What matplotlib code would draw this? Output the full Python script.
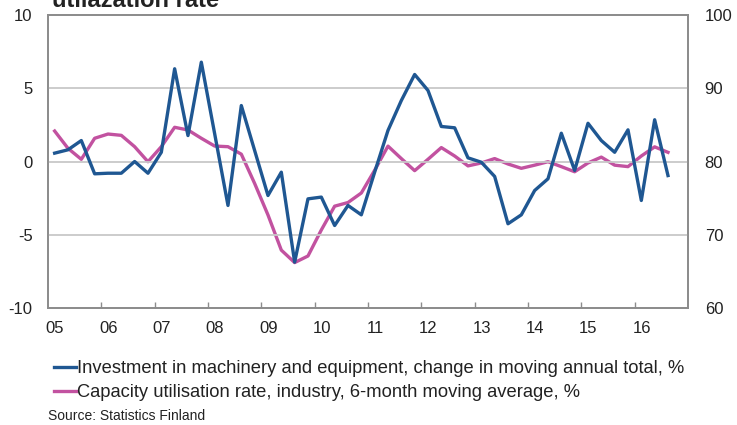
import numpy as np
import matplotlib.pyplot as plt

plt.rcParams["font.family"] = ["Liberation Sans", "DejaVu Sans"]
plt.rcParams["axes.unicode_minus"] = False

# quarterly observations 2005Q1 .. 2016Q3
start_year = 2005
investment = [0.57, 0.8, 1.43, -0.84, -0.8, -0.8, 0.0, -0.8,
              0.63, 6.33, 1.77, 6.78, 1.9, -3.0, 3.82, 0.75,
              -2.32, -0.73, -6.87, -2.55, -2.43, -4.37, -3.0, -3.64,
              -0.73, 2.12, 4.16, 5.94, 4.85, 2.39, 2.3, 0.25,
              -0.05, -1.02, -4.25, -3.64, -1.98, -1.18, 1.93, -0.61,
              2.61, 1.43, 0.63, 2.16, -2.66, 2.85, -0.96]
capacity = [84.16, 81.8, 80.3, 83.17, 83.75, 83.57, 82.02, 79.97,
            82.02, 84.67, 84.3, 83.17, 82.11, 82.02, 81.0, 77.0,
            72.7, 67.9, 66.2, 67.1, 70.65, 73.9, 74.4, 75.7,
            78.8, 82.1, 80.4, 78.75, 80.3, 81.9, 80.75, 79.4,
            79.8, 80.4, 79.66, 79.07, 79.5, 79.97, 79.3, 78.6,
            79.8, 80.6, 79.5, 79.3, 80.75, 82.0, 81.25]
year_labels = ["05", "06", "07", "08", "09", "10", "11", "12", "13", "14", "15", "16"]
label_inv = "Investment in machinery and equipment, change in moving annual total, %"
label_cap = "Capacity utilisation rate, industry, 6-month moving average, %"

BLUE = "#1f5792"
PINK = "#c252a0"
GRID = "#c8c8c8"
FRAME = "#8c8c8c"
TXT = "#222222"

t = start_year + np.arange(len(investment)) * 0.25 + 0.125

fig = plt.figure(figsize=(7.37, 4.25), dpi=100)
ax = fig.add_axes([0.0651, 0.2753, 0.8684, 0.6894])
ax2 = ax.twinx()

ax.set_xlim(2005, 2017)
ax.set_ylim(-10, 10)
ax2.set_ylim(60, 100)

for y in (-5, 0, 5):
    ax.axhline(y, color=GRID, lw=1.3, zorder=0)

ax.plot(t, investment, color=BLUE, lw=2.4, zorder=3)
ax2.plot(t, capacity, color=PINK, lw=2.4, zorder=2)
ax.set_zorder(ax2.get_zorder() + 1)
ax.patch.set_visible(False)

for a in (ax, ax2):
    for s in a.spines.values():
        s.set_color(FRAME)
        s.set_linewidth(1.3)

ax.set_yticks([-10, -5, 0, 5, 10])
ax2.set_yticks([60, 70, 80, 90, 100])
ax.tick_params(axis="y", length=0, pad=11, labelsize=12, labelcolor=TXT)
ax2.tick_params(axis="y", length=0, pad=12, labelsize=12, labelcolor=TXT)

years = np.arange(start_year, start_year + len(year_labels))
ax.set_xticks(years[1:])
ax.set_xticklabels([])
ax.tick_params(axis="x", which="major", direction="in", length=4, color=FRAME, width=1)
ax.set_xticks(years + 0.13, minor=True)
ax.set_xticklabels(year_labels, minor=True)
ax.tick_params(axis="x", which="minor", length=0, pad=9.5, labelsize=12, labelcolor=TXT)

fig.text(52 / 737, 1 - 7 / 425, "utilazation rate", fontsize=17, fontweight="bold",
         color=TXT, ha="left", va="baseline")

handles = [plt.Line2D([], [], color=BLUE, lw=2.4), plt.Line2D([], [], color=PINK, lw=2.4)]
fig.legend(handles, [label_inv, label_cap], loc="upper left",
           bbox_to_anchor=(54 / 737, 1 - 360 / 425), frameon=False, fontsize=13.2,
           handlelength=1.2, handletextpad=0.05, labelspacing=0.4, borderpad=0,
           borderaxespad=0, labelcolor=TXT)

fig.text(48 / 737, 1 - 416 / 425, "Source: Statistics Finland", fontsize=10,
         color=TXT, ha="left", va="center")

fig.savefig("out.png", dpi=100)
